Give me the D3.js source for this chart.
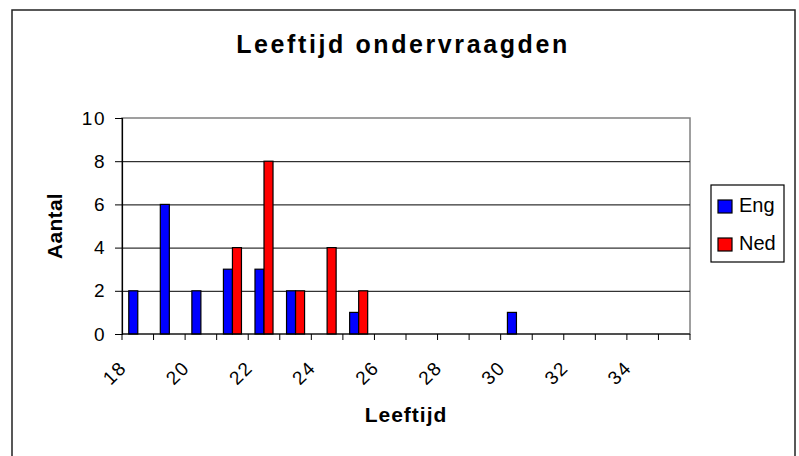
<!DOCTYPE html>
<html>
<head>
<meta charset="utf-8">
<script src="https://cdn.jsdelivr.net/npm/d3@7"></script>
<style>
  body { margin: 0; background: #fff; }
  svg { display: block; font-family: "Liberation Sans", Arial, sans-serif; }
</style>
</head>
<body>
<div id="wrapper"></div>
<script>
// data
const ages = d3.range(18, 36);
const eng = [2, 6, 2, 3, 3, 2, 0, 1, 0, 0, 0, 0, 1, 0, 0, 0, 0, 0];
const ned = [0, 0, 0, 4, 8, 2, 4, 2, 0, 0, 0, 0, 0, 0, 0, 0, 0, 0];
const seriesNames = ["Eng", "Ned"];
const seriesColors = ["#0000ff", "#ff0000"];
const yTicks = [0, 2, 4, 6, 8, 10];
const xTickLabels = [18, 20, 22, 24, 26, 28, 30, 32, 34];

const width = 799;
const height = 456;
const plot = { left: 122, right: 690, top: 118, bottom: 334 };
const fontFamily = "'Liberation Sans', Arial, sans-serif";

const svg = d3.select("#wrapper").append("svg")
  .attr("width", width)
  .attr("height", height);

// outer chart border
svg.append("rect")
  .attr("x", 12).attr("y", 10)
  .attr("width", 783).attr("height", 460)
  .attr("fill", "#fff")
  .attr("stroke", "#222")
  .attr("stroke-width", 1.5);

// scales
const gap = 1.5 / 3.5;
const x = d3.scaleBand()
  .domain(ages)
  .range([plot.left, plot.right])
  .paddingInner(gap)
  .paddingOuter(gap / 2);
const xSeries = d3.scaleBand()
  .domain(seriesNames)
  .range([0, x.bandwidth()]);
const y = d3.scaleLinear()
  .domain([0, 10])
  .range([plot.bottom, plot.top]);

// plot area border
svg.append("rect")
  .attr("x", plot.left).attr("y", plot.top)
  .attr("width", plot.right - plot.left)
  .attr("height", plot.bottom - plot.top)
  .attr("fill", "none")
  .attr("stroke", "#808080")
  .attr("stroke-width", 1.5);

// gridlines
svg.append("g")
  .attr("transform", `translate(${plot.left},0)`)
  .call(d3.axisLeft(y).tickValues(yTicks.slice(1, -1)).tickSize(-(plot.right - plot.left)).tickFormat(""))
  .call(g => g.select(".domain").remove())
  .call(g => g.selectAll("line").attr("stroke", "#000").attr("stroke-width", 1));

// bars
const table = ages.map((a, i) => ({ age: a, values: [eng[i], ned[i]] }));
const groups = svg.append("g").selectAll("g")
  .data(table)
  .join("g")
  .attr("transform", d => `translate(${x(d.age)},0)`);
groups.selectAll("rect")
  .data(d => d.values.map((v, j) => ({ name: seriesNames[j], value: v, color: seriesColors[j] })).filter(s => s.value > 0))
  .join("rect")
  .attr("x", s => xSeries(s.name))
  .attr("y", s => y(s.value))
  .attr("width", xSeries.bandwidth())
  .attr("height", s => y(0) - y(s.value))
  .attr("fill", s => s.color)
  .attr("stroke", "#000")
  .attr("stroke-width", 1.2);

// y axis
const yAxis = svg.append("g")
  .attr("transform", `translate(${plot.left},0)`)
  .call(d3.axisLeft(y).tickValues(yTicks).tickSize(7).tickPadding(9));
yAxis.select(".domain").attr("stroke", "#000").attr("stroke-width", 1.2);
yAxis.selectAll("line").attr("stroke", "#000");
yAxis.selectAll("text")
  .attr("font-size", 19)
  .attr("letter-spacing", 1.5)
  .attr("fill", "#000")
  .style("font-family", fontFamily);

// x axis: tick marks at category boundaries
const step = x.step();
const bounds = ages.map(a => x(a) - step * gap / 2).concat([plot.right]);
svg.append("line")
  .attr("x1", plot.left).attr("x2", plot.right)
  .attr("y1", plot.bottom).attr("y2", plot.bottom)
  .attr("stroke", "#000").attr("stroke-width", 1.2);
svg.append("g").selectAll("line")
  .data(bounds)
  .join("line")
  .attr("x1", d => d).attr("x2", d => d)
  .attr("y1", plot.bottom).attr("y2", plot.bottom + 6)
  .attr("stroke", "#000");

// rotated category labels
svg.append("g").selectAll("text")
  .data(xTickLabels)
  .join("text")
  .attr("transform", d => `translate(${x(d) + x.bandwidth() / 2 - 10},${plot.bottom + 35}) rotate(-45)`)
  .attr("text-anchor", "end")
  .attr("font-size", 19)
  .attr("letter-spacing", 1.5)
  .text(d => d);

// titles
svg.append("text")
  .attr("x", 403).attr("y", 53)
  .attr("text-anchor", "middle")
  .attr("font-size", 25).attr("font-weight", "bold")
  .attr("letter-spacing", 2.6)
  .text("Leeftijd ondervraagden");

svg.append("text")
  .attr("x", (plot.left + plot.right) / 2).attr("y", 422)
  .attr("text-anchor", "middle")
  .attr("font-size", 21).attr("font-weight", "bold")
  .attr("letter-spacing", 1)
  .text("Leeftijd");

svg.append("text")
  .attr("transform", `translate(62,${(plot.top + plot.bottom) / 2}) rotate(-90)`)
  .attr("text-anchor", "middle")
  .attr("font-size", 21).attr("font-weight", "bold")
  .attr("letter-spacing", 0.3)
  .text("Aantal");

// legend
const legend = svg.append("g").attr("transform", "translate(711,185)");
legend.append("rect")
  .attr("width", 73).attr("height", 77)
  .attr("fill", "#fff").attr("stroke", "#000").attr("stroke-width", 1.2);
const items = legend.selectAll("g")
  .data(seriesNames)
  .join("g")
  .attr("transform", (d, i) => `translate(7,${15 + i * 38})`);
items.append("rect")
  .attr("width", 14).attr("height", 13)
  .attr("fill", (d, i) => seriesColors[i])
  .attr("stroke", "#000").attr("stroke-width", 1.2);
items.append("text")
  .attr("x", 21).attr("y", 12)
  .attr("font-size", 20)
  .text(d => d);
</script>
</body>
</html>
